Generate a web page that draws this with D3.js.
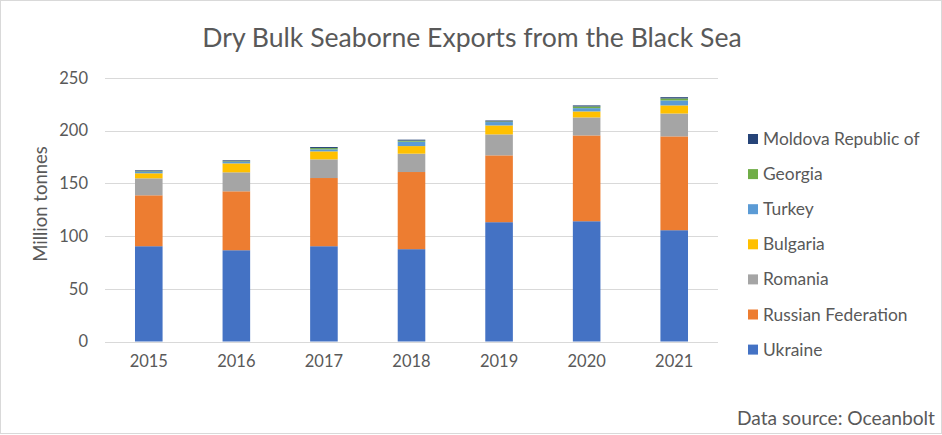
<!DOCTYPE html>
<html><head><meta charset="utf-8">
<script src="https://cdn.jsdelivr.net/npm/d3@7"></script>
<style>body{margin:0;background:#fff}svg{display:block}text{font-family:Lato,"Open Sans",sans-serif;fill:#595959}</style>
</head><body><div id="chart"></div>
<script>
const years = ["2015","2016","2017","2018","2019","2020","2021"];
const seriesNames = ["Ukraine","Russian Federation","Romania","Bulgaria","Turkey","Georgia","Moldova Republic of"];
const ukraine   = [90.4, 86.6, 90.4, 87.6, 113.2, 114.1, 105.6];
const russia    = [48.3, 55.9, 64.7, 73.2, 63.4, 81.4, 89.0];
const romania   = [16.1, 18.0, 17.7, 17.4, 19.9, 17.1, 21.7];
const bulgaria  = [4.8, 8.5, 7.6, 7.2, 8.5, 5.7, 7.7];
const turkey    = [1.4, 1.5, 1.9, 4.2, 3.2, 3.1, 4.7];
const georgia   = [0.5, 0.5, 1.2, 1.0, 0.6, 1.6, 1.9];
const moldova   = [0.9, 0.9, 1.0, 0.9, 0.9, 1.0, 1.2];
const yTicks = [0, 50, 100, 150, 200, 250];
const colors = ["#4472c4","#ed7d31","#a5a5a5","#ffc000","#5b9bd5","#70ad47","#264478"];

const W = 942, H = 435;
const svg = d3.select("#chart").append("svg").attr("width", W).attr("height", H);
svg.append("rect").attr("x",0.5).attr("y",0.5).attr("width",W-1).attr("height",H-2)
  .attr("fill","#fff").attr("stroke","#d9d9d9");

const plot = {l:105, r:718, t:78, b:341.5};
const vals = [ukraine, russia, romania, bulgaria, turkey, georgia, moldova];
const table = years.map((y,i)=>{const o={year:y}; seriesNames.forEach((s,j)=>o[s]=vals[j][i]); return o;});
const stack = d3.stack().keys(seriesNames)(table);

const x = d3.scaleBand().domain(years).range([plot.l, plot.r]).paddingInner(0.685).paddingOuter(0.3425);
const y = d3.scaleLinear().domain([0,250]).range([plot.b, plot.t]);

// gridlines
svg.append("g").selectAll("line").data(yTicks).join("line")
  .attr("x1",plot.l).attr("x2",plot.r).attr("y1",d=>Math.round(y(d))+0.5).attr("y2",d=>Math.round(y(d))+0.5)
  .attr("stroke","#d9d9d9").attr("stroke-width",1);

// bars
svg.append("g").selectAll("g").data(stack).join("g").attr("fill",(d,i)=>colors[i])
  .selectAll("rect").data(d=>d).join("rect")
  .attr("x",d=>x(d.data.year)).attr("width",x.bandwidth())
  .attr("y",d=>y(d[1])).attr("height",d=>y(d[0])-y(d[1]));

// y axis labels
const yAxis = d3.axisLeft(y).tickValues(yTicks).tickSize(0).tickPadding(0);
const gy = svg.append("g").attr("transform",`translate(${plot.l-17},0)`).call(yAxis);
gy.select(".domain").remove();
gy.selectAll("text").attr("font-size",16.5).attr("fill","#595959").style("font-family","Lato,sans-serif");

// x axis labels
const xAxis = d3.axisBottom(x).tickSize(0).tickPadding(0);
const gx = svg.append("g").attr("transform",`translate(0,${plot.b+14})`).call(xAxis);
gx.select(".domain").remove();
gx.selectAll("text").attr("font-size",16.5).attr("fill","#595959").style("font-family","Lato,sans-serif");

// title
svg.append("text").attr("x",472).attr("y",47).attr("text-anchor","middle").attr("font-size",26.6)
  .text("Dry Bulk Seaborne Exports from the Black Sea");

// y title
svg.append("text").attr("transform","translate(47,204) rotate(-90)").attr("text-anchor","middle")
  .attr("font-size",18.5).text("Million tonnes");

// legend
const legendOrder = seriesNames.map((s,i)=>({s,c:colors[i]})).reverse();
const lg = svg.append("g").selectAll("g").data(legendOrder).join("g")
  .attr("transform",(d,i)=>`translate(748,${139+i*35.1})`);
lg.append("rect").attr("x",0).attr("y",-5).attr("width",10).attr("height",10).attr("fill",d=>d.c);
lg.append("text").attr("x",15).attr("y",0).attr("dy","0.35em").attr("font-size",17.4).text(d=>d.s);

// source
svg.append("text").attr("x",935).attr("y",425).attr("text-anchor","end").attr("font-size",19.2)
  .text("Data source: Oceanbolt");
</script></body></html>
